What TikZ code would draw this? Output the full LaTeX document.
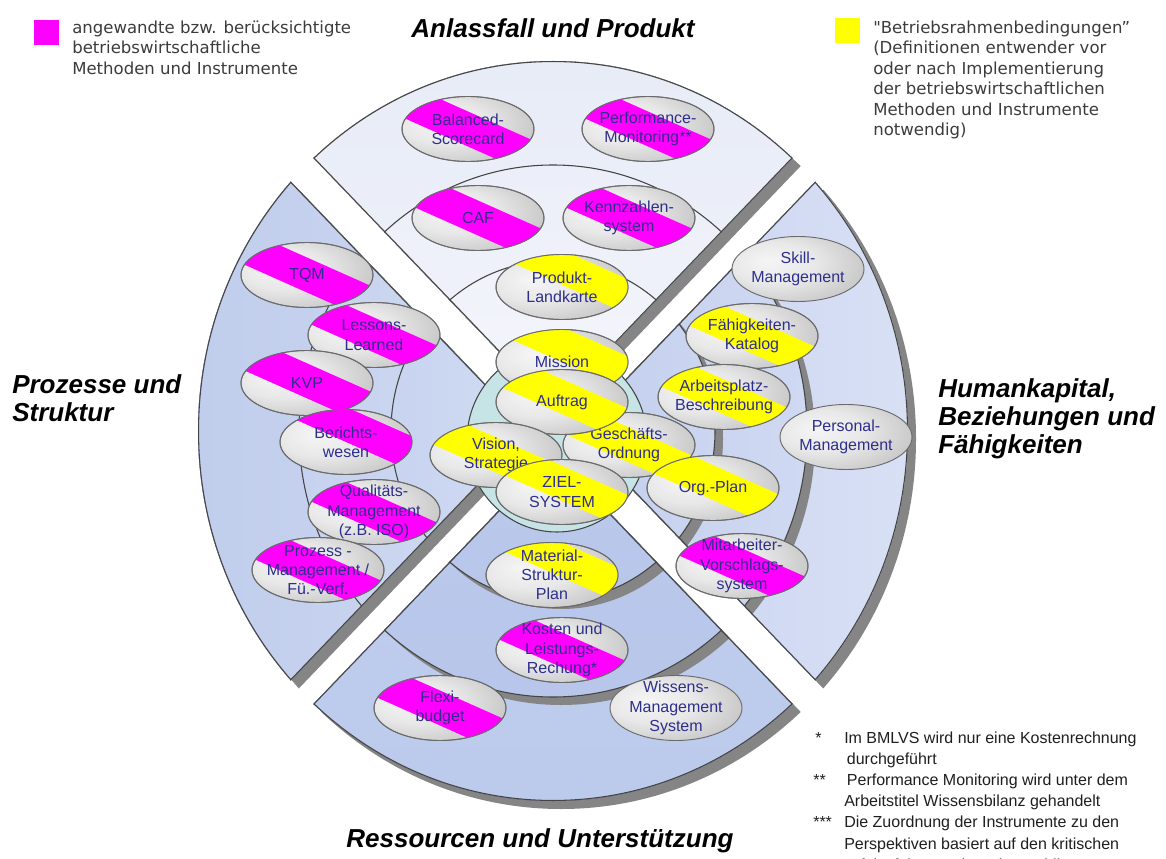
\documentclass[tikz,border=0pt]{standalone}
\usepackage{fontspec}
\setmainfont{Liberation Sans}
\newfontfamily\legendfont{DejaVu Sans}
\usetikzlibrary{shapes.geometric}

\definecolor{magentabar}{HTML}{FF00FF}
\definecolor{yellowbar}{HTML}{FFFF00}
\definecolor{navytext}{HTML}{2E2E8C}
\definecolor{shadowgray}{HTML}{858585}
\definecolor{ringline}{HTML}{454545}
\definecolor{corecyan}{HTML}{C6E4E6}
\definecolor{legendgray}{HTML}{3C3C3C}
% quadrant tints
\definecolor{topA}{HTML}{E8ECF7}
\definecolor{topB}{HTML}{F8F9FD}
\definecolor{topC}{HTML}{ECEFF9}
\definecolor{topD}{HTML}{F0F2FA}
\definecolor{topE}{HTML}{F9FAFE}
\definecolor{leftA}{HTML}{C0CDEC}
\definecolor{leftB}{HTML}{DCE4F6}
\definecolor{leftC}{HTML}{C6D2EF}
\definecolor{leftD}{HTML}{C8D4F0}
\definecolor{rightA}{HTML}{B4C3E8}
\definecolor{rightB}{HTML}{D8E0F5}
\definecolor{rightC}{HTML}{D0D9F2}
\definecolor{rightD}{HTML}{CCD6F1}
\definecolor{botA}{HTML}{C4D1EF}
\definecolor{botB}{HTML}{BCCAEC}
\definecolor{botC}{HTML}{C0CDEE}
\definecolor{botD}{HTML}{B7C6EA}

% metallic look of the instrument ellipses
\pgfdeclareradialshading{silver}{\pgfpoint{-12bp}{6bp}}{%
  color(0bp)=(white!96!black); color(16bp)=(white!91!black); color(32bp)=(white!79!black);
  color(45bp)=(white!64!black); color(70bp)=(white!50!black)}

\tikzset{
  sector line/.style={draw=ringline, line width=1.6pt},
  ring line/.style={draw=ringline, line width=0.8pt},
  instr/.style={ellipse, minimum width=99pt, minimum height=48.75pt, inner sep=0pt,
    shade, shading=silver, draw=black!58, line width=0.7pt},
  instr outline/.style={draw=black!58, line width=0.7pt},
  instr text/.style={font=\fontsize{12}{14.4}\selectfont, text=navytext, align=center, inner sep=0pt},
  title/.style={font=\fontsize{19.5}{21.3}\selectfont\bfseries\itshape, inner sep=0pt},
  legend text/.style={font=\legendfont\fontsize{12.4}{15.4}\selectfont, text=legendgray, align=left, inner sep=0pt},
  legend box/.style={minimum size=18.75pt, inner sep=0pt},
  note text/.style={font=\fontsize{12}{15.85}\selectfont, text=black!88, align=left, inner sep=0pt},
  % the four quadrants, separated by bands along the diagonals
  region top/.style={insert path={(553,408) -- ++(-816,-851) -- ++(1632,0) -- cycle}},
  region left/.style={insert path={(530,431) -- ++(-816,-851) -- ++(0,1702) -- cycle}},
  region right/.style={insert path={(576,431) -- ++(816,-851) -- ++(0,1702) -- cycle}},
  region bottom/.style={insert path={(553,454) -- ++(-816,851) -- ++(1632,0) -- cycle}},
}

% one quadrant: drop shadow, three nested rings with their own shadows
\newcommand\ringsector[4]{%
  \begin{scope}[shift={(8,8)}]
    \path[clip, #1];
    \fill[shadowgray] (553,431) ellipse [x radius=355, y radius=370];
  \end{scope}
  \begin{scope}
    \path[clip, #1];
    \path[clip] (553,431) ellipse [x radius=355, y radius=370];
    \fill[#2] (553,431) ellipse [x radius=355, y radius=370];
    \fill[shadowgray] (561,439) ellipse [x radius=254, y radius=266];
    \fill[#3] (553,431) ellipse [x radius=254, y radius=266];
    \draw[ring line] (553,431) ellipse [x radius=254, y radius=266];
    \fill[shadowgray] (561,439) ellipse [x radius=162, y radius=170];
    \fill[#4] (553,431) ellipse [x radius=162, y radius=170];
    \draw[ring line] (553,431) ellipse [x radius=162, y radius=170];
    \draw[sector line] (553,431) ellipse [x radius=355, y radius=370];
    \draw[sector line, #1];
  \end{scope}}

% instrument with a diagonal colour bar (24 degrees, 32px wide):
% name, x, y, colour, offset towards the upper right, text
\newcommand\instr[6]{%
  \node[instr] (#1) at (#2,#3) {};
  \begin{scope}
    \path[clip] (#2,#3) ellipse [x radius=66, y radius=32.5];
    \fill[#4] ({#2+(#5+16)*0.4067-100.5},{#3-(#5+16)*0.9135-44.74})
      -- ({#2+(#5+16)*0.4067+100.5},{#3-(#5+16)*0.9135+44.74})
      -- ({#2+(#5-16)*0.4067+100.5},{#3-(#5-16)*0.9135+44.74})
      -- ({#2+(#5-16)*0.4067-100.5},{#3-(#5-16)*0.9135-44.74}) -- cycle;
  \end{scope}
  \draw[instr outline] (#1.center) ellipse [x radius=66, y radius=32.5];
  \node[instr text] (#1-label) at (#1.center) {#6};}
% instrument without a colour bar: name, x, y, text
\newcommand\plaininstr[4]{%
  \node[instr] (#1) at (#2,#3) {};
  \node[instr text] (#1-label) at (#1.center) {#4};}

\begin{document}
\begin{tikzpicture}[x=0.75pt, y=-0.75pt]
\path[use as bounding box, fill=white] (0,0) rectangle (1166,859);

% quadrants
\ringsector{region top}{top color=topA, bottom color=topB}
  {top color=topC, bottom color=topB}{top color=topD, bottom color=topE}
\ringsector{region left}{left color=leftA, right color=leftB}
  {left color=leftC, right color=leftB}{left color=leftD, right color=leftB}
\ringsector{region right}{left color=rightA, right color=rightB}
  {left color=rightA, right color=rightC}{left color=rightA, right color=rightD}
\ringsector{region bottom}{top color=botA, bottom color=botB}
  {top color=botC, bottom color=botD}{top color=botC, bottom color=botD}

% core
\fill[corecyan] (557,440) ellipse [x radius=90, y radius=92];
\draw[ring line] (557,440) ellipse [x radius=90, y radius=92];

% Anlassfall und Produkt
\instr{balanced}{468}{129}{magentabar}{0}{Balanced-\\Scorecard}
\instr{performance}{648}{129}{magentabar}{0}{Performance-\\Monitoring**}
\instr{caf}{478}{218}{magentabar}{0}{CAF}
\instr{kennzahlen}{629}{218}{magentabar}{0}{Kennzahlen-\\system}
\instr{produkt}{562}{287}{yellowbar}{18}{Produkt-\\Landkarte}

% Prozesse und Struktur
\instr{tqm}{307}{275}{magentabar}{0}{TQM}
\instr{lessons}{374}{335}{magentabar}{0}{Lessons-\\Learned}
\instr{kvp}{307}{383}{magentabar}{2}{KVP}
\instr{berichte}{346}{442}{magentabar}{16}{Berichts-\\wesen}
\instr{qualitaet}{374}{512}{magentabar}{0}{Qualitäts-\\Management\\(z.B. ISO)}
\instr{prozess}{318}{570}{magentabar}{0}{Prozess -\\Management /\\Fü.-Verf.}

% Humankapital, Beziehungen und Fähigkeiten
\plaininstr{skill}{798}{269}{Skill-\\Management}
\instr{faehig}{752}{336}{yellowbar}{0}{Fähigkeiten-\\Katalog}
\instr{arbeitsplatz}{724}{397}{yellowbar}{0}{Arbeitsplatz-\\Beschreibung}
\plaininstr{personal}{846}{437}{Personal-\\Management}

% centre
\instr{mission}{562}{362}{yellowbar}{16}{Mission}
\instr{geschaeft}{629}{445}{yellowbar}{0}{Geschäfts-\\Ordnung}
\instr{auftrag}{562}{402}{yellowbar}{5}{Auftrag}
\instr{vision}{496}{455}{yellowbar}{0}{Vision,\\Strategie}
\instr{ziel}{562}{492}{yellowbar}{8}{ZIEL-\\SYSTEM}
\instr{orgplan}{713}{488}{yellowbar}{5}{Org.-Plan}
\instr{mitarbeiter}{742}{566}{magentabar}{0}{Mitarbeiter-\\Vorschlags-\\system}

% Ressourcen und Unterstützung
\instr{material}{552}{575}{yellowbar}{18}{Material-\\Struktur-\\Plan}
\instr{kosten}{562}{650}{magentabar}{0}{Kosten und\\Leistungs-\\Rechung*}
\instr{flexi}{440}{708}{magentabar}{0}{Flexi-\\budget}
\plaininstr{wissen}{676}{708}{Wissens-\\Management\\System}

% perspective titles
\node[title, anchor=base] (t-anlass) at (553,38) {Anlassfall und Produkt};
\node[title, anchor=north west, align=left] (t-prozesse) at (12,374) {Prozesse und\\Struktur};
\node[title, anchor=north west, align=left] (t-human) at (938,378) {Humankapital,\\Beziehungen und\\Fähigkeiten};
\node[title, anchor=base] (t-ressourcen) at (540,847) {Ressourcen und Unterstützung};

% keys
\node[legend box, fill=magentabar] (key-m) at (46.5,33) {};
\node[legend text, anchor=north west] (key-m-text) at (72,20.5)
  {angewandte bzw. berücksichtigte\\betriebswirtschaftliche\\Methoden und Instrumente};
\node[legend box, fill=yellowbar] (key-y) at (847.5,31) {};
\node[legend text, anchor=north west] (key-y-text) at (873,20.5)
  {"Betriebsrahmenbedingungen”\\(Definitionen entwender vor\\oder nach Implementierung\\der betriebswirtschaftlichen\\Methoden und Instrumente\\notwendig)};

% footnotes
\node[note text, anchor=north west] (notes) at (844,731.5)
  {Im BMLVS wird nur eine Kostenrechnung\\\hspace*{2pt}durchgeführt\\\hspace*{2pt}Performance Monitoring wird unter dem\\Arbeitstitel Wissensbilanz gehandelt\\Die Zuordnung der Instrumente zu den\\Perspektiven basiert auf den kritischen\\Erfolgsfaktoren der Wissensbilanz};
\node[note text, anchor=base west] (mark1) at (815,743) {*};
\node[note text, anchor=base west] (mark2) at (813,785) {**};
\node[note text, anchor=base west] (mark3) at (813,827) {***};
\end{tikzpicture}
\end{document}
